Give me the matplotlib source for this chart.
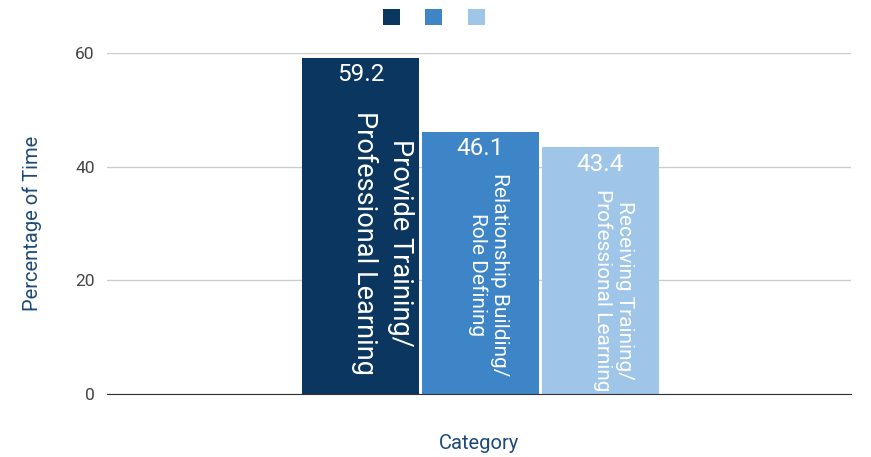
import matplotlib
matplotlib.use("Agg")
import matplotlib.pyplot as plt
from matplotlib.patches import Patch

plt.rcParams['font.family'] = ['Roboto', 'DejaVu Sans']

# chart data
categories = ["Provide Training/\nProfessional Learning",
              "Relationship Building/\nRole Defining",
              "Receiving Training/\nProfessional Learning"]
values = [59.2, 46.1, 43.4]
yticks = [0, 20, 40, 60]

# style per bar
colors = ["#0b365f", "#3d85c6", "#9fc5e8"]
label_sizes = [19.5, 15, 15]
label_spacing = [1.4, 1.15, 1.15]
label_dx = [22, 8, 13]          # px shift of the rotated label block
label_frac = [0.45, 0.455, 0.42]  # vertical centre as fraction of bar height

fig = plt.figure(figsize=(8.71, 4.57), dpi=100)
ax = fig.add_axes([107 / 871, 1 - 394 / 457, 744 / 871, 341 / 457])

xs = [-1, 0, 1]
ax.bar(xs, values, width=0.975, color=colors, zorder=3)

for x, v, lab, fs, ls, dx, fr in zip(xs, values, categories, label_sizes,
                                     label_spacing, label_dx, label_frac):
    ax.annotate(f"{v:.1f}", (x, v), xytext=(0, -12), textcoords="offset points",
                ha="center", va="center", color="white", fontsize=17.5, zorder=4)
    ax.annotate(lab, (x, v * fr), xytext=(dx * 0.72, 0), textcoords="offset points",
                ha="center", va="center", rotation=-90, color="white",
                fontsize=fs, linespacing=ls, multialignment="center",
                zorder=4, annotation_clip=False)

ax.set_xlim(-3.1125, 3.0875)
ax.set_ylim(0, 60)
ax.set_yticks(yticks)
ax.set_xticks([])
ax.grid(axis="y", color="#cccccc", linewidth=1, zorder=0)
ax.tick_params(axis="y", length=0, labelsize=12.5, labelcolor="#444444", pad=9)
for s in ["top", "right", "left"]:
    ax.spines[s].set_visible(False)
ax.spines["bottom"].set_color("#333333")
ax.spines["bottom"].set_zorder(5)

ax.set_ylabel("Percentage of Time", fontsize=14.5, color="#1c4a78", labelpad=24)
ax.set_xlabel("Category", fontsize=14.5, color="#1c4a78", labelpad=29)

handles = [Patch(facecolor=c, edgecolor="none") for c in colors]
fig.legend(handles, ["", "", ""], loc="center", bbox_to_anchor=(0.498, 0.962),
           ncol=3, frameon=False, fontsize=12.5, handlelength=1.0, handleheight=1.0,
           handletextpad=0, columnspacing=1.45)

fig.savefig("out.png", dpi=100)
